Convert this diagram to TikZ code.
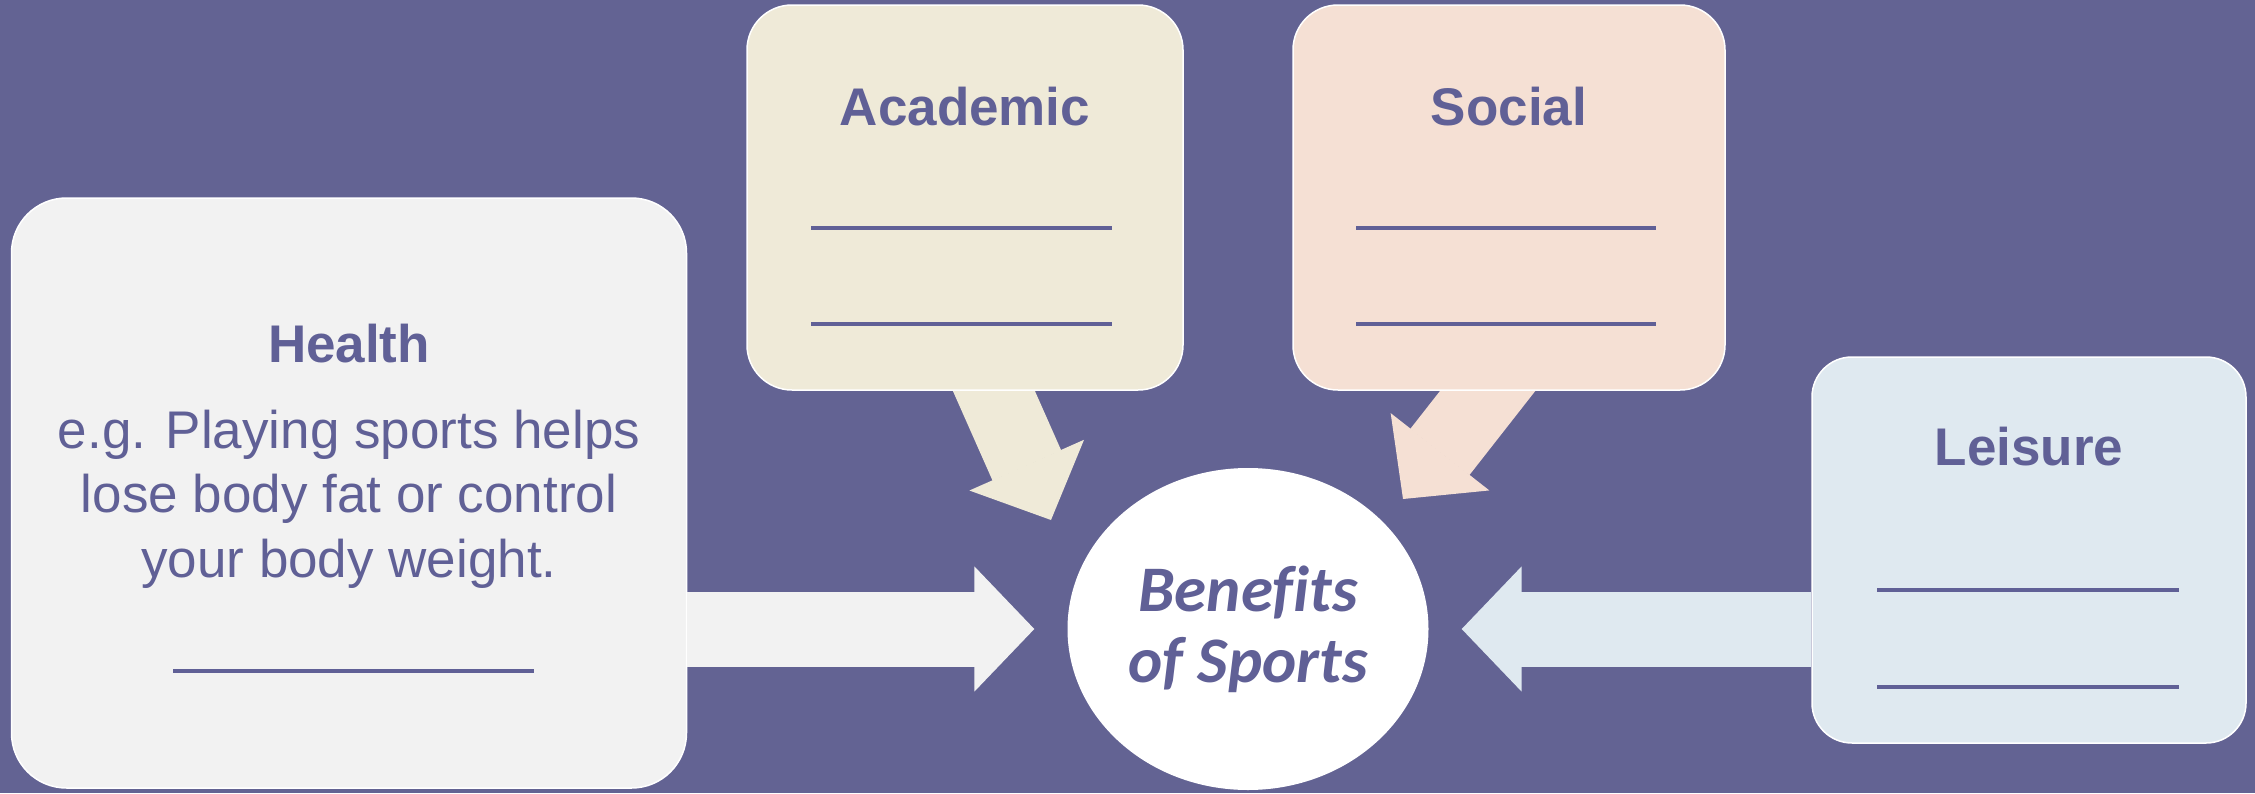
\documentclass[tikz,border=0pt]{standalone}
\usepackage{fontspec}
\setmainfont{Liberation Sans}
\newfontfamily\hubfont[Ligatures=NoCommon]{Carlito}
\usepackage{xcolor}
\usetikzlibrary{shapes.geometric,arrows.meta}

\definecolor{bgpurple}{RGB}{99,99,147}
\definecolor{inkpurple}{RGB}{96,96,150}
\definecolor{healthfill}{RGB}{242,242,242}
\definecolor{acadfill}{RGB}{239,234,216}
\definecolor{socialfill}{RGB}{245,224,212}
\definecolor{leisurefill}{RGB}{223,233,240}

\begin{document}
\begin{tikzpicture}[x=1pt,y=1pt,
        card/.style={draw=white,line width=1.5pt,rounded corners=45pt,inner sep=0pt},
        title/.style={anchor=base,text=inkpurple,font=\fontsize{53}{64}\selectfont\bfseries},
        blank/.style={draw=inkpurple,line width=4pt},
        block/.style={line width=75pt,-{Triangle[length=60pt,width=125pt,line width=2pt]}}]
        \fill[bgpurple] (0,0) rectangle (2255,-793);
        \node[ellipse,fill=white,inner sep=0pt,minimum width=361pt,minimum height=322pt,
              align=center,text=inkpurple,font=\hubfont\fontsize{65}{71}\selectfont\bfseries\itshape] (hub) at (1248,-629) {Benefits\\of Sports};
        % slanted arrows start inside the cards
        \coordinate (acadtail) at (970,-337);
        \coordinate (acadtip) at (1051,-520);
        \coordinate (socialtail) at (1526,-342);
        \coordinate (socialtip) at (1403,-499);
        \draw[block,acadfill] (acadtail) -- (acadtip);
        \draw[block,socialfill] (socialtail) -- (socialtip);
        \node[card,rounded corners=55pt,fill=healthfill,minimum width=675pt,minimum height=590pt] (health) at (349,-493) {};
        \node[card,fill=acadfill,minimum width=436pt,minimum height=385pt] (academic) at (965,-197.5) {};
        \node[card,fill=socialfill,minimum width=432pt,minimum height=385pt] (social) at (1509,-197.5) {};
        \node[card,rounded corners=40pt,fill=leisurefill,minimum width=434pt,minimum height=386pt] (leisure) at (2029,-550) {};
        \draw[block,healthfill,shorten >=33pt] (health.east |- hub.west) -- (hub.west);
        \draw[block,leisurefill,shorten >=33pt] (leisure.west |- hub.east) -- (hub.east);
        \node[title] (healthtitle) at (349,-362) {Health};
        \node[title] (acadtitle) at (965,-125) {Academic};
        \node[title] (socialtitle) at (1509,-125) {Social};
        \node[title] (leisuretitle) at (2029,-465) {Leisure};
        % base of a three-line node is its last line
        \node[anchor=base,align=center,text=inkpurple,font=\fontsize{53}{64.5}\selectfont] (healthtext) at (349,-577)
            {e.g. Playing sports helps\\lose body fat or control\\your body weight.};
        \draw[blank] (173,-671) -- (534,-671);
        \foreach \y in {-228,-324} {
            \draw[blank] (811,\y) -- (1112,\y);
            \draw[blank] (1356,\y) -- (1656,\y);
        }
        \draw[blank] (1877,-590) -- (2179,-590);
        \draw[blank] (1877,-687) -- (2179,-687);
\end{tikzpicture}
\end{document}
